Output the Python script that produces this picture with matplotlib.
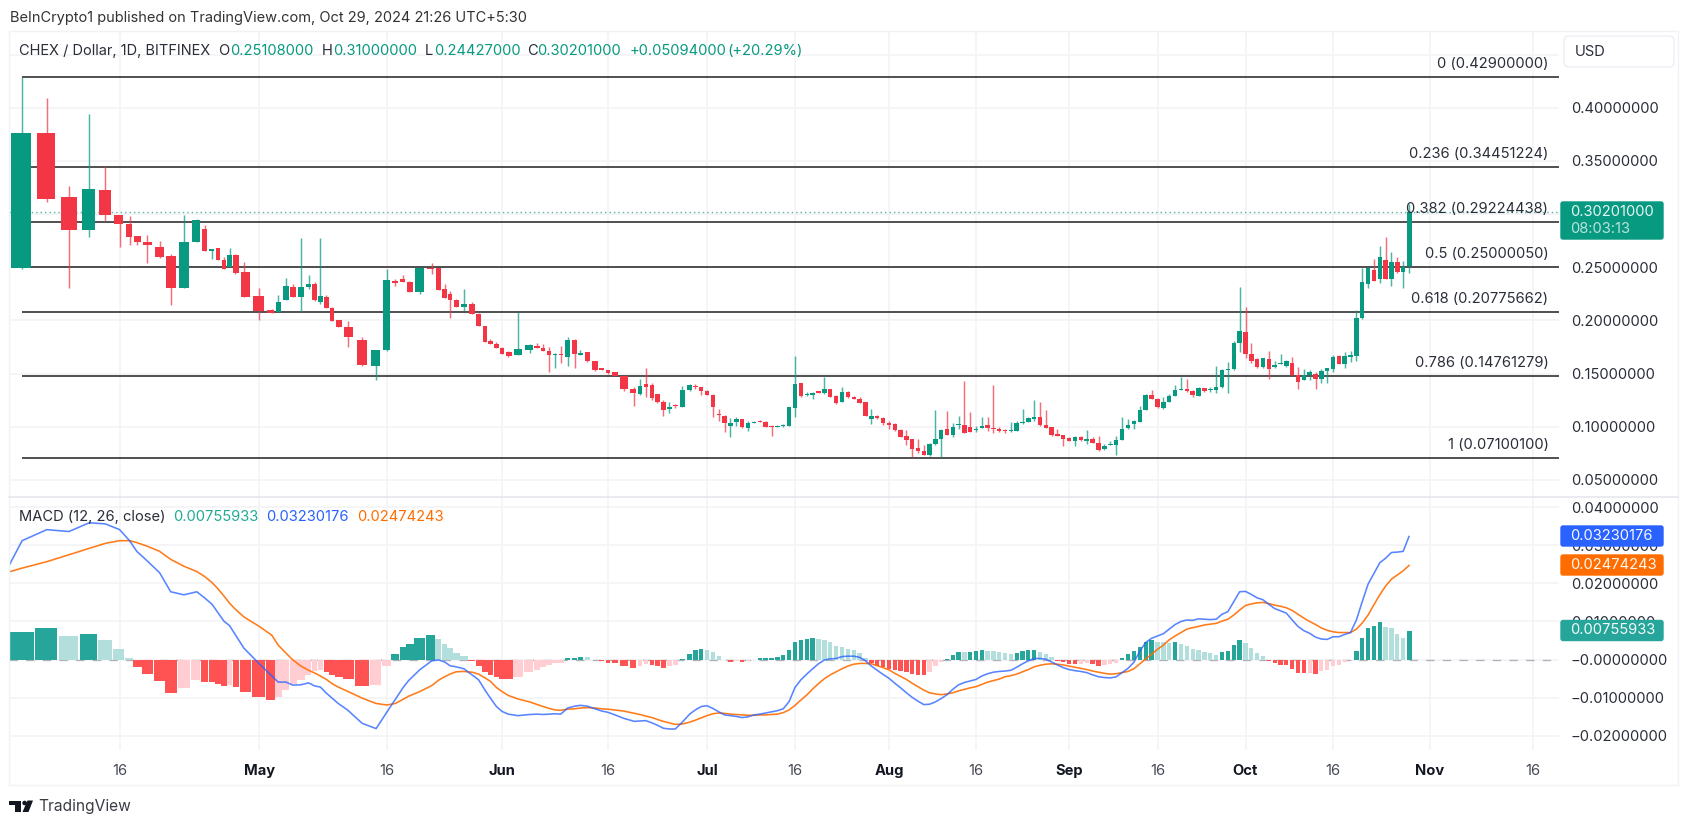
import numpy as np
import matplotlib
matplotlib.use("Agg")
import matplotlib.pyplot as plt
from matplotlib.patches import FancyBboxPatch, Rectangle, Polygon, Circle

# ---------- data ----------
directions = ("GRRGRRRRRR" "RGGRGRRGRR"
              "RRGGRGGRGR" "RRRRGGRRRG" "RRRRRGRRRRR"
              "RRGGRRRGRG" "RGRRRRRRRG" "RRRRGRGGRR"
              "RRRRGGRGGR" "RRGGGGRGGR" "GRRGRRRRGRR"
              "RRRRRRRGGG" "RGGRRGGRRR" "RGGGGGRRRRR"
              "RGRGRRGGGG" "GGGGRRGGGG" "RRGRGGGGGG"
              "RRRGRGGGRR" "GGRGGGRGGG" "GGRGRGRGG")
highs = [.4290,.4089,.3261,.3941,.3449,.2991,.2982,.2794,.2800,.2747,
 .2621,.2991,.2954,.2900,.2675,.2681,.2599,.2681,.2624,.2549,
 .2301,.2104,.2235,.2395,.2339,.2775,.2424,.2358,.2775,.2242,
 .2129,.2003,.1997,.1840,.1721,.2486,.2392,.2424,.2370,.2496,
 .2540,.2496,.2339,.2273,.2198,.2298,.2173,.2066,.1947,.1822,.1800,
 .1753,.1712,.2082,.1778,.1784,.1778,.1753,.1690,.1759,.1840,
 .1822,.1721,.1699,.1618,.1552,.1533,.1514,.1480,.1370,.1445,
 .1549,.1414,.1307,.1251,.1232,.1216,.1386,.1398,.1401,.1376,
 .1342,.1304,.1166,.1107,.1078,.1088,.1072,.1056,.1050,.1066,
 .1050,.1012,.1016,.1025,.1182,.1665,.1408,.1323,.1326,.1339,
 .1470,.1354,.1298,.1370,.1332,.1291,.1276,.1229,.1163,.1110,.1088,
 .1053,.1037,.0975,.0969,.0884,.0881,.0827,.0843,.1157,.0981,
 .1147,.1037,.1103,.1430,.1138,.1003,.1094,.1094,.1389,.0994,
 .0975,.1041,.1056,.1169,.1094,.1254,.1235,.1154,.1000,.0975,.0922,
 .0900,.0912,.0909,.0972,.0903,.0915,.0834,.0865,.0912,.1091,
 .1075,.1063,.1198,.1304,.1345,.1266,.1279,.1307,.1392,.1470,
 .1445,.1345,.1376,.1367,.1376,.1574,.1539,.1608,.1806,.2317,
 .2129,.1790,.1643,.1649,.1712,.1621,.1684,.1624,.1658,.1561,
 .1542,.1533,.1511,.1539,.1555,.1674,.1677,.1702,.1709,.2098,
 .2493,.2499,.2574,.2700,.2781,.2646,.2593,.2555,.3100]
body_hi = [.3760,.3766,.3161,.3233,.3230,.2991,.2910,.2791,.2740,.2690,
 .2606,.2740,.2947,.2863,.2675,.2678,.2571,.2618,.2618,.2458,
 .2232,.2094,.2176,.2320,.2317,.2314,.2342,.2339,.2232,.2220,
 .2116,.2000,.1938,.1812,.1718,.2383,.2373,.2389,.2361,.2496,
 .2493,.2493,.2292,.2245,.2192,.2157,.2154,.2063,.1944,.1803,.1778,
 .1740,.1706,.1728,.1771,.1756,.1737,.1715,.1687,.1687,.1815,
 .1815,.1696,.1699,.1615,.1549,.1530,.1511,.1477,.1354,.1382,
 .1398,.1389,.1304,.1232,.1182,.1201,.1348,.1389,.1386,.1370,
 .1332,.1301,.1119,.1097,.1034,.1072,.1072,.1031,.1047,.1056,
 .1044,.1006,.1009,.1016,.1182,.1404,.1408,.1304,.1320,.1332,
 .1351,.1351,.1288,.1329,.1329,.1279,.1263,.1229,.1103,.1103,.1078,
 .1037,.1025,.0969,.0909,.0881,.0799,.0774,.0837,.0884,.0969,
 .0975,.0997,.1025,.1016,.0994,.0978,.1009,.1012,.0984,.0978,
 .0969,.0965,.1034,.1047,.1085,.1094,.1094,.1019,.0997,.0934,.0918,
 .0890,.0900,.0900,.0884,.0884,.0850,.0821,.0834,.0871,.0981,
 .1016,.1050,.1157,.1298,.1295,.1260,.1235,.1288,.1345,.1357,
 .1357,.1335,.1364,.1361,.1357,.1373,.1533,.1546,.1784,.1900,
 .1894,.1687,.1636,.1643,.1636,.1580,.1599,.1615,.1599,.1483,
 .1489,.1511,.1495,.1527,.1549,.1652,.1662,.1668,.1671,.2025,
 .2361,.2493,.2474,.2596,.2571,.2546,.2546,.2499,.3020]
body_lo = [.2496,.3142,.2847,.2847,.2991,.2903,.2784,.2737,.2709,.2596,
 .2304,.2304,.2737,.2649,.2656,.2568,.2486,.2505,.2442,.2223,
 .2088,.2066,.2082,.2188,.2223,.2223,.2311,.2192,.2173,.2116,
 .1997,.1938,.1844,.1580,.1574,.1718,.2348,.2364,.2270,.2270,
 .2480,.2289,.2214,.2192,.2123,.2126,.2060,.1944,.1800,.1778,.1737,
 .1687,.1662,.1674,.1721,.1737,.1715,.1677,.1674,.1674,.1658,
 .1680,.1677,.1618,.1530,.1533,.1502,.1477,.1351,.1314,.1307,
 .1376,.1270,.1229,.1160,.1169,.1191,.1185,.1342,.1370,.1332,
 .1301,.1182,.1110,.1031,.1003,.1044,.0994,.0984,.1034,.1047,
 .0997,.1000,.1000,.1003,.1006,.1179,.1285,.1295,.1295,.1320,
 .1314,.1282,.1223,.1232,.1276,.1260,.1226,.1103,.1075,.1078,.1037,
 .1019,.0965,.0906,.0878,.0793,.0771,.0736,.0730,.0834,.0884,
 .0925,.0922,.1012,.0943,.0953,.0965,.0991,.0991,.0975,.0956,
 .0962,.0956,.0962,.1034,.1044,.1075,.1012,.0991,.0922,.0915,.0884,
 .0868,.0868,.0871,.0868,.0846,.0780,.0787,.0827,.0824,.0878,
 .0991,.1022,.1047,.1157,.1260,.1182,.1179,.1235,.1288,.1345,
 .1332,.1298,.1291,.1332,.1345,.1342,.1370,.1533,.1542,.1784,
 .1684,.1618,.1564,.1558,.1542,.1558,.1590,.1574,.1483,.1423,
 .1439,.1483,.1445,.1445,.1527,.1542,.1590,.1590,.1658,.1662,
 .2022,.2345,.2373,.2392,.2386,.2389,.2455,.2455,.2511]
lows = [.2486,.3110,.2301,.2784,.2938,.2693,.2712,.2712,.2540,.2584,
 .2145,.2304,.2737,.2649,.2577,.2568,.2480,.2505,.2436,.2223,
 .2003,.2066,.2082,.2188,.2223,.2076,.2298,.2185,.2151,.2116,
 .1997,.1938,.1753,.1571,.1439,.1709,.2323,.2361,.2270,.2248,
 .2433,.2289,.2214,.2025,.2123,.2088,.2060,.1944,.1800,.1778,.1737,
 .1684,.1658,.1671,.1690,.1737,.1715,.1511,.1552,.1596,.1571,
 .1552,.1674,.1611,.1527,.1530,.1498,.1473,.1339,.1194,.1301,
 .1282,.1251,.1226,.1100,.1125,.1179,.1182,.1335,.1351,.1298,
 .1298,.1094,.1053,.0950,.0900,.1009,.0991,.0962,.1031,.1044,
 .0994,.0915,.0997,.0994,.1003,.1088,.1282,.1291,.1260,.1317,
 .1310,.1279,.1210,.1229,.1273,.1257,.1223,.1097,.1025,.1075,.1016,
 .0975,.0962,.0900,.0827,.0711,.0749,.0730,.0727,.0831,.0711,
 .0922,.0900,.0978,.0940,.0950,.0950,.0984,.0956,.0943,.0953,
 .0943,.0953,.0959,.1025,.1041,.1053,.1009,.0984,.0912,.0909,.0818,
 .0862,.0818,.0862,.0837,.0843,.0774,.0783,.0824,.0736,.0875,
 .0981,.0978,.1044,.1154,.1257,.1179,.1169,.1232,.1285,.1342,
 .1329,.1276,.1288,.1329,.1326,.1317,.1364,.1314,.1530,.1702,
 .1643,.1596,.1555,.1552,.1448,.1552,.1586,.1564,.1480,.1351,
 .1436,.1439,.1357,.1414,.1414,.1517,.1586,.1549,.1608,.1621,
 .2016,.2301,.2370,.2348,.2386,.2323,.2442,.2301,.2443]

# MACD values, in units of 1e-4; line series start one day earlier (Apr 10, off the left edge)
hist_e4 = [72,82,61,68,52,29,4,-20,-37,-57,-87,-75,-54,-58,-59,-64,-70,-67,-71,-85,
 -99,-106,-99,-80,-65,-54,-40,-31,-26,-32,-40,-45,-52,-69,-67,-17,16,34,40,57,65,54,40,30,17,10,-3,-16,-32,-41,-46,
 -51,-52,-45,-33,-26,-19,-14,-9,-8,4,5,8,6,-2,-4,-8,-10,-16,-21,-16,-12,-15,-16,-21,-16,-15,2,15,24,27,
 26,21,10,-1,-7,-3,-7,-4,-1,3,4,5,7,11,24,46,52,54,57,55,52,45,37,34,29,24,17,3,-10,-16,-19,
 -24,-26,-31,-33,-39,-40,-41,-33,-18,-6,2,11,20,19,20,22,24,23,22,19,17,16,18,22,24,26,21,16,7,-3,-5,
 -11,-12,-11,-10,-12,-17,-14,-12,-9,4,16,23,32,46,52,46,45,44,45,42,37,29,26,21,17,13,20,23,39,52,
 44,31,17,9,-3,-8,-13,-15,-24,-34,-36,-35,-38,-31,-28,-17,-14,-7,-2,22,57,83,88,99,85,82,67,56,76]
macd_e4 = [167,312,341,336,359,356,341,312,284,260,228,178,170,178,162,145,122,101,89,65,30,-11,-43,-59,-59,-67,-66,-61,-69,-72,-88,-101,-115,-132,-167,-181,-138,-104,-73,-55,-27,-3,-1,-6,-16,-19,-24,-40,-53,-80,-101,-123,
 -136,-143,-147,-144,-143,-144,-143,-142,-143,-127,-122,-120,-122,-129,-135,-138,-144,-154,-162,-161,-160,-166,-172,-180,-182,-182,-164,-143,-132,-123,
 -121,-128,-137,-145,-147,-149,-152,-150,-145,-143,-140,-137,-134,-129,-110,-73,-53,-38,-24,-11,-1,2,3,8,9,9,6,-3,-17,-28,-39,
 -49,-62,-74,-87,-99,-109,-118,-117,-111,-102,-92,-78,-66,-60,-56,-52,-43,-37,-33,-31,-30,-28,-20,-11,-3,3,3,1,-6,-14,-21,
 -26,-29,-31,-34,-40,-45,-47,-48,-45,-34,-23,-7,22,45,56,62,68,80,92,100,104,103,107,106,105,106,119,126,152,178,
 179,171,162,157,145,134,128,122,104,87,76,69,59,54,53,60,60,66,71,104,152,198,226,254,266,281,282,284,323]
signal_e4 = [218,240,257,275,292,305,312,312,307,298,284,263,245,231,218,202,185,167,148,132,112,87,64,38,17,-1,-17,-28,-35,-43,-52,-63,-72,-83,-101,-115,-119,-115,-104,-96,-84,-68,-54,-45,-38,-32,-31,-33,-38,-48,-57,-73,
 -84,-94,-103,-111,-118,-123,-128,-132,-133,-130,-129,-127,-126,-127,-129,-130,-132,-135,-141,-144,-148,-152,-157,-162,-166,-170,-169,-164,-159,-153,
 -147,-142,-140,-141,-143,-144,-145,-146,-146,-145,-145,-144,-143,-139,-132,-120,-106,-93,-77,-63,-50,-40,-32,-24,-17,-12,-10,-10,-11,-16,-21,
 -27,-36,-44,-52,-62,-71,-80,-87,-90,-92,-90,-87,-82,-78,-74,-71,-65,-59,-55,-51,-45,-42,-38,-32,-26,-19,-15,-12,-11,-12,-14,
 -17,-20,-23,-26,-30,-33,-36,-38,-37,-34,-31,-24,-11,2,14,27,38,52,62,71,80,84,87,91,93,95,101,106,117,130,
 142,146,149,150,147,143,140,136,129,119,109,100,92,83,77,73,71,71,71,80,96,117,144,170,193,211,222,233,247]

fib_levels = [0, .236, .382, .5, .618, .786, 1]
fib_prices = [.42900000, .34451224, .29224438, .25000050, .20775662, .14761279, .07100100]
price_ticks = [.05, .10, .15, .20, .25, .30, .35, .40, .45]
price_labels = [.05, .10, .15, .20, .25, None, .35, .40, None]
macd_ticks = [-.02, -.01, 0, .01, .02, .03, .04]
tick_days = [5, 20, 35, 51, 66, 81, 96, 112, 127, 143, 158, 173, 188, 204, 219]
tick_names = ["16", "May", "16", "Jun", "16", "Jul", "16", "Aug", "16", "Sep", "16", "Oct", "16", "Nov", "16"]
last_close = .30201
last_macd, last_signal, last_hist = .03230176, .02474243, .00755933

# ---------- the source's time axis is unevenly stretched: day -> pixel ----------
W, H = 1687, 824
warp_days = list(range(-1, 82)) + [96, 112, 127, 143, 158, 173, 188, 201, 204, 219, 225]
warp_px = [-7, 22.1, 46.8, 68.9, 89.3, 105.4, 119.6, 129.6, 136.8, 146.8, 159.6, 170.7, 183.9, 196.8, 204.6, 212.1,
           218.2, 223.9, 229.6, 235.4, 243.9, 259.3, 271.8, 278.2, 286, 292.9, 301, 308.6, 314.6, 320.4, 326.4, 332.1,
           338.2, 347.5, 362.1, 376.1, 386.8, 395.4, 403.2, 408.6, 419.6, 431.8, 438.6, 444.6, 450, 456.1, 463.9, 472.1,
           478.6, 485, 490.4, 496.4, 502.1, 508.3, 517.7, 529.7, 537.3, 543.3, 549, 555, 560.7, 567.7, 575, 580.3, 587.3,
           595, 602, 607.7, 614, 623.7, 634.3, 640, 645.7, 652, 657.3, 663.3, 669.3, 675.3, 682.3, 689.7, 695.3, 701.3, 707,
           795, 889, 976, 1069, 1157.5, 1245.5, 1333, 1409, 1429.5, 1532.5, 1573.7]
def fwd(d):
    return np.interp(d, warp_days, warp_px)
def inv(p):
    return np.interp(p, warp_px, warp_days)

# ---------- layout ----------
L_PX, R_PX = 9, 1559
TOP, SEP, BOT = 31, 497, 750
plt.rcParams['font.family'] = ['Inter', 'DejaVu Sans']
FS = 10.6
INK = "#2A2E39"
GREEN, RED = "#089981", "#F23645"
GRID = "#F3F4F7"

fig = plt.figure(figsize=(W / 100, H / 100), dpi=100, facecolor="white")
def axes_px(top, bottom):
    return fig.add_axes([L_PX / W, 1 - bottom / H, (R_PX - L_PX) / W, (bottom - top) / H])
ax = axes_px(TOP, SEP)
am = axes_px(SEP, BOT)
for a, yl in ((ax, (.0339, .4723)), (am, (-.02371, .04266))):
    a.set_xscale('function', functions=(fwd, inv))
    a.set_xlim(inv(L_PX), inv(R_PX))
    a.set_ylim(*yl)
    a.set_xticks(tick_days)
    a.minorticks_off()
    a.grid(True, color=GRID, lw=1.2, zorder=0)
    a.set_axisbelow(True)
    for s in a.spines.values():
        s.set_visible(False)
    a.yaxis.tick_right()
    a.tick_params(length=0, labelsize=FS, labelcolor=INK, pad=8.4)

# candles
days = np.arange(len(highs))
rising = np.array([c == "G" for c in directions])
colors = np.where(rising, GREEN, RED)
ax.hlines(fib_prices, 0, inv(R_PX), color="#3A3A3A", lw=1.25, zorder=2)
ax.axhline(last_close, color=GREEN, lw=1, ls=(0, (1, 2.2)), alpha=.7, zorder=2)
ax.vlines(days, lows, highs, colors=colors, lw=1.05, alpha=.72, zorder=3)
ax.bar(days, np.array(body_hi) - np.array(body_lo), bottom=body_lo, width=.76, color=colors, lw=0, zorder=4)

ax.set_yticks(price_ticks)
ax.set_yticklabels(["" if p is None else f"{p:.8f}" for p in price_labels])
ax.set_xticklabels([])
for lvl, pr in zip(fib_levels, fib_prices):
    ax.annotate(f"{lvl} ({pr:.8f})", xy=(1548.5, pr), xycoords=("figure pixels", "data"),
                xytext=(0, 9.3), textcoords="offset points", ha="right", va="center",
                fontsize=FS, color=INK, zorder=8)

# MACD panel
hist = np.array(hist_e4) / 1e4
prev = np.r_[hist[0] - 1e-4, hist[:-1]]
hcol = np.where(hist >= 0, np.where(hist > prev, "#26A69A", "#B2DFDB"),
                np.where(hist < prev, "#FF5252", "#FFCDD2"))
am.bar(days, hist, width=np.where(days < 60, .94, .74), color=hcol, lw=0, zorder=2)
am.axhline(0, color="#787B86", lw=1, alpha=.55, ls=(0, (6, 6)), zorder=1)
line_days = np.arange(-1, len(highs))
am.plot(line_days, np.array(signal_e4) / 1e4, color="#FF6D00", lw=1.15, alpha=.9, zorder=3)
am.plot(line_days, np.array(macd_e4) / 1e4, color="#2962FF", lw=1.15, alpha=.78, zorder=4)
am.set_yticks(macd_ticks)
am.set_yticklabels([("\u2212" if t <= 0 else "") + f"{abs(t):.8f}" for t in macd_ticks])
am.set_xticklabels(tick_names)
am.tick_params(axis='x', pad=10)
for t in am.get_xticklabels():
    t.set_color("#131722")
    if not t.get_text().isdigit():
        t.set_fontweight("bold")
    else:
        t.set_color("#444852")

# ---------- chrome in pixel coordinates ----------
ov = fig.add_axes([0, 0, 1, 1], zorder=10)
ov.set_xlim(0, W); ov.set_ylim(H, 0); ov.axis("off"); ov.patch.set_alpha(0)
ov.add_patch(Rectangle((9, 31), 1669, 754, fill=False, ec="#F0F2F8", lw=1))
ov.plot([9, 1678], [497, 497], color="#E3E6EE", lw=1.1)

def tx(x, y, s, color=INK, **k):
    k.setdefault("fontsize", FS)
    return ov.text(x, y, s, color=color, va="center", **k)

tx(9.6, 17.8, "BeInCrypto1 published on TradingView.com, Oct 29, 2024 21:26 UTC+5:30", color="#333333", fontsize=10.5)
row = 50.7
tx(19.3, row, "CHEX / Dollar, 1D, BITFINEX", fontsize=10.5)
for x, s, c in [(218.6, "O", INK), (230, "0.25108000", GREEN), (322, "H", INK), (333, "0.31000000", GREEN),
                (425, "L", INK), (434, "0.24427000", GREEN), (527, "C", INK), (537, "0.30201000", GREEN),
                (630, "+0.05094000", GREEN), (727, "(+20.29%)", GREEN)]:
    tx(x, row, s, color=c)
row2 = 516.7
tx(19.3, row2, "MACD (12, 26, close)")
for x, s, c in [(173.6, f"{last_hist:.8f}", "#22AB94"), (266, f"{last_macd:.8f}", "#2962FF"),
                (357, f"{last_signal:.8f}", "#FF6D00")]:
    tx(x, row2, s, color=c)

def badge(y0, y1, color, lines):
    ov.add_patch(FancyBboxPatch((1561, y0), 102, y1 - y0, boxstyle="round,pad=0,rounding_size=2",
                                fc=color, ec=color, lw=1))
    for yy, s, al in lines:
        tx(1570.6, yy, s, color="white", alpha=al)

badge(202, 239, GREEN, [(212, f"{last_close:.8f}", .9), (229, "08:03:13", .72)])
badge(526, 546, "#2962FF", [(536, f"{last_macd:.8f}", .95)])
badge(555, 575, "#FF6D00", [(565, f"{last_signal:.8f}", .95)])
badge(620.5, 640.5, "#26A69A", [(630.5, f"{last_hist:.8f}", .95)])

ov.add_patch(FancyBboxPatch((1564, 36), 110, 31, boxstyle="round,pad=0,rounding_size=5", fc="white",
                            ec="#ECEEF3", lw=1))
tx(1575, 51.7, "USD", color="#2A2E39")

# footer logo and wordmark
ov.add_patch(Polygon([(9, 800.5), (21.5, 800.5), (21.5, 812), (15, 812), (15, 805), (9, 805)], fc="#131722", lw=0))
ov.add_patch(Circle((24.6, 803), 2.3, fc="#131722", lw=0))
ov.add_patch(Polygon([(27.5, 800.5), (33, 800.5), (28.5, 812), (22.5, 812)], fc="#131722", lw=0))
tx(38, 806.7, "TradingView", color="#3A3D45", fontsize=11.2)

fig.savefig("out.png", dpi=100)
